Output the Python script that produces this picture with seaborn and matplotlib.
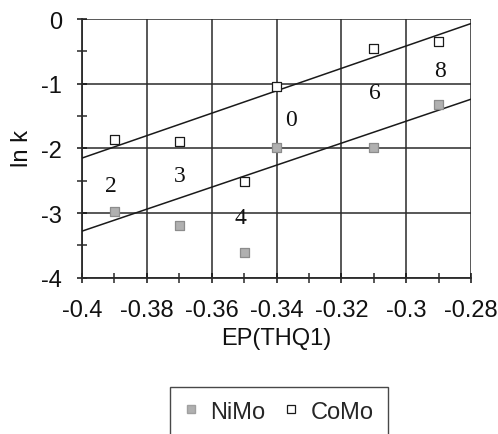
import matplotlib
matplotlib.use("Agg")
import matplotlib.pyplot as plt
import pandas as pd
import seaborn as sns
from matplotlib.ticker import MultipleLocator, FuncFormatter
from matplotlib.lines import Line2D

# Electrochemical potential of THQ1 vs. rate constant
ep = [-0.39, -0.37, -0.35, -0.34, -0.31, -0.29]
nimo_lnk = [-2.98, -3.19, -3.61, -1.98, -1.98, -1.32]
como_lnk = [-1.87, -1.89, -2.52, -1.05, -0.45, -0.35]

# Straight trend lines (endpoints across the plotted range)
fit_ep = [-0.40, -0.28]
nimo_fit = [-3.28, -1.24]
como_fit = [-2.15, -0.07]

# Point labels and their positions
point_labels = ["2", "3", "4", "0", "6", "8"]
label_ep = [-0.391, -0.370, -0.351, -0.3356, -0.3096, -0.2896]
label_lnk = [-2.58, -2.42, -3.07, -1.56, -1.13, -0.80]

x_ticks = [-0.4, -0.38, -0.36, -0.34, -0.32, -0.3, -0.28]
y_ticks = [0, -1, -2, -3, -4]

sns.set_theme(style="white")
plt.rcParams["font.family"] = ["Liberation Sans", "DejaVu Sans"]

points = pd.DataFrame({
    "EP": ep * 2,
    "lnk": nimo_lnk + como_lnk,
    "catalyst": ["NiMo"] * len(ep) + ["CoMo"] * len(ep),
})
fits = pd.DataFrame({
    "EP": fit_ep * 2,
    "lnk": nimo_fit + como_fit,
    "catalyst": ["NiMo"] * 2 + ["CoMo"] * 2,
})

fig = plt.figure(figsize=(4.98, 4.35), dpi=100)
ax = fig.add_axes([0.1647, 0.3593, 0.7811, 0.5947])

sns.lineplot(data=fits, x="EP", y="lnk", units="catalyst", estimator=None,
             color="#1a1a1a", linewidth=1.1, ax=ax, legend=False, zorder=3)

sns.scatterplot(data=points, x="EP", y="lnk", hue="catalyst",
                palette={"NiMo": "#b0b0b0", "CoMo": "white"},
                marker="s", s=42, linewidth=0.9, ax=ax, zorder=4, legend=False)
ax.collections[-1].set_edgecolors(["#8c8c8c"] * len(ep) + ["#1a1a1a"] * len(ep))

for t, xv, yv in zip(point_labels, label_ep, label_lnk):
    ax.text(xv, yv, t, ha="center", va="center", fontsize=17,
            family=["Liberation Serif", "DejaVu Serif"], color="#111111", zorder=5)

ax.set_xlim(-0.4, -0.28)
ax.set_ylim(-4, 0)
ax.set_xticks(x_ticks)
ax.set_yticks(y_ticks)
ax.xaxis.set_major_formatter(FuncFormatter(lambda v, p: f"{v:g}"))
ax.yaxis.set_major_formatter(FuncFormatter(lambda v, p: f"{v:g}"))
ax.xaxis.set_minor_locator(MultipleLocator(0.01))
ax.yaxis.set_minor_locator(MultipleLocator(0.5))
ax.grid(True, which="major", color="#2a2a2a", linewidth=1.1)
ax.set_axisbelow(True)
ax.tick_params(which="both", direction="inout", color="#2a2a2a", width=1.1,
               bottom=True, left=True)
ax.tick_params(which="major", length=7, labelsize=17, colors="#111111")
ax.tick_params(which="minor", length=7)
ax.tick_params(axis="x", which="major", pad=12)
ax.tick_params(axis="y", which="major", pad=11)
for side in ["left", "bottom"]:
    ax.spines[side].set_color("#2a2a2a")
    ax.spines[side].set_linewidth(1.3)
for side in ["top", "right"]:
    ax.spines[side].set_visible(False)

ax.set_xlabel("EP(THQ1)", fontsize=17, color="#111111", labelpad=4)
ax.set_ylabel("ln k", fontsize=17, color="#111111")
ax.yaxis.set_label_coords(-0.126, 0.505)

handles = [
    Line2D([], [], linestyle="none", marker="s", markersize=5.5,
           markerfacecolor="#b0b0b0", markeredgecolor="#a0a0a0"),
    Line2D([], [], linestyle="none", marker="s", markersize=5.5,
           markerfacecolor="white", markeredgecolor="#1a1a1a", markeredgewidth=0.9),
]
leg = fig.legend(handles, ["NiMo", "CoMo"], loc="upper center",
                 bbox_to_anchor=(0.56, 0.109), borderaxespad=0, ncol=2,
                 fontsize=17, frameon=True, fancybox=False, handlelength=0.6,
                 handletextpad=0.5, columnspacing=0.8, borderpad=0.6)
leg.get_frame().set_edgecolor("#1a1a1a")
leg.get_frame().set_linewidth(1.0)

fig.savefig("out.png", dpi=100)
